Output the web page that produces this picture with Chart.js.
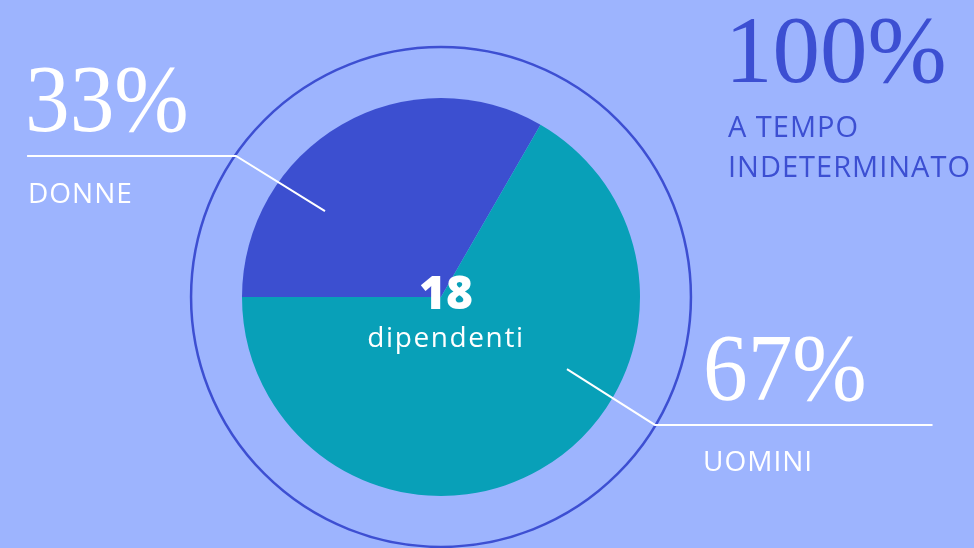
<!DOCTYPE html>
<html>
<head>
<meta charset="utf-8">
<script src="https://cdn.jsdelivr.net/npm/chart.js@4"></script>
<style>
  html, body { margin: 0; padding: 0; background: #9db4fe; }
  #wrap { position: relative; width: 974px; height: 548px; overflow: hidden; }
  #chart { position: absolute; left: 0; top: 0; }
  .pct { position: absolute; font-family: "Liberation Serif", serif; font-size: 95px; line-height: 1; color: #fff; white-space: nowrap; transform-origin: left top; }
  .narrow { transform: scaleX(0.94); }
  .lbl { position: absolute; font-family: "Open Sans", sans-serif; font-size: 28px; line-height: 1; color: #fff; letter-spacing: 1px; white-space: nowrap; }
  #total { position: absolute; left: 346px; width: 200px; text-align: center; top: 268px; font-family: "Open Sans", sans-serif; font-weight: 800; font-size: 46px; line-height: 1; color: #fff; }
  #unit { position: absolute; left: 346px; width: 200px; text-align: center; top: 322px; font-family: "Open Sans", sans-serif; font-size: 28px; line-height: 1; color: #fff; letter-spacing: 1.6px; }
</style>
</head>
<body>
<div id="wrap">
  <canvas id="chart" width="974" height="548"></canvas>
  <div class="pct narrow" id="pctDonne" style="left:25px; top:52px;"></div>
  <div class="lbl" id="lblDonne" style="left:28px; top:178px;"></div>
  <div class="pct narrow" id="pctUomini" style="left:703px; top:321px;"></div>
  <div class="lbl" id="lblUomini" style="left:703px; top:446px;"></div>
  <div class="pct" id="pctContract" style="left:725px; top:3px; color:#3c4fd2;"></div>
  <div class="lbl" style="left:728px; top:106px; color:#3c4fd2; line-height:40px; font-size:29px;" id="lblContract"></div>
  <div id="total"></div>
  <div id="unit">dipendenti</div>
</div>
<script>
const categories = ["DONNE", "UOMINI"];
const employees = [6, 12];
const colors = ["#3c4fd0", "#08a0b8"];
const contractShare = 100;
const contractLabel = ["A TEMPO", "INDETERMINATO"];

const total = employees.reduce((a, b) => a + b, 0);
const pct = employees.map(v => Math.round(v / total * 100));

document.getElementById("pctDonne").textContent = pct[0] + "%";
document.getElementById("lblDonne").textContent = categories[0];
document.getElementById("pctUomini").textContent = pct[1] + "%";
document.getElementById("lblUomini").textContent = categories[1];
document.getElementById("pctContract").textContent = contractShare + "%";
document.getElementById("lblContract").innerHTML = contractLabel.join("<br>");
document.getElementById("total").textContent = total;

// outer ring + leader lines, in units of the pie radius
const decorations = {
  id: "decorations",
  afterDatasetsDraw(chart) {
    const arc = chart.getDatasetMeta(0).data[0];
    const cx = arc.x, cy = arc.y, r = arc.outerRadius;
    const ctx = chart.ctx;
    ctx.save();
    ctx.strokeStyle = "#3d4fd2";
    ctx.lineWidth = 2.5;
    ctx.beginPath();
    ctx.arc(cx, cy, r * 1.256, 0, Math.PI * 2);
    ctx.stroke();

    const leaders = [
      [[-0.583, -0.432], [-1.03, -0.709], [-2.08, -0.709]],
      [[0.633, 0.362], [1.075, 0.643], [2.47, 0.643]]
    ];
    ctx.strokeStyle = "#ffffff";
    ctx.lineWidth = 2;
    leaders.forEach(pts => {
      ctx.beginPath();
      pts.forEach(([u, v], i) => {
        const x = cx + u * r, y = cy + v * r;
        if (i === 0) ctx.moveTo(x, y); else ctx.lineTo(x, y);
      });
      ctx.stroke();
    });
    ctx.restore();
  }
};

new Chart(document.getElementById("chart").getContext("2d"), {
  type: "pie",
  data: {
    labels: categories,
    datasets: [{
      data: employees,
      backgroundColor: colors,
      borderWidth: 0,
      hoverOffset: 0
    }]
  },
  options: {
    responsive: false,
    animation: false,
    rotation: -90,
    layout: { padding: { left: 242, right: 334, top: 98, bottom: 52 } },
    plugins: { legend: { display: false }, tooltip: { enabled: false } }
  },
  plugins: [decorations]
});
</script>
</body>
</html>
